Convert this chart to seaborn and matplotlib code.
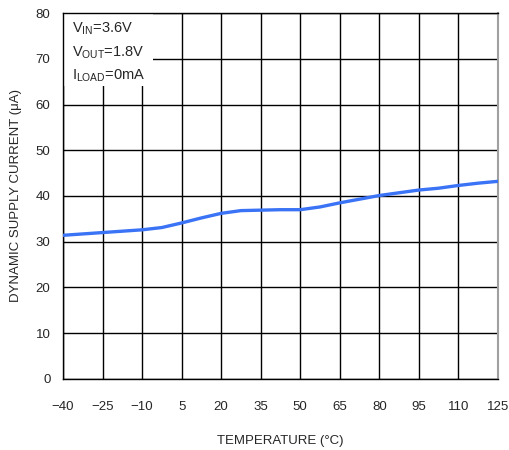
"""Dynamic supply current vs temperature."""

import matplotlib

matplotlib.use('Agg')
import matplotlib.pyplot as plt
import pandas as pd
import seaborn as sns

temperature = [-40, -32.5, -25, -17.5, -10, -2.5, 5, 12.5, 20, 27.5, 35, 42.5,
               50, 57.5, 65, 72.5, 80, 87.5, 95, 102.5, 110, 117.5, 125]
current_ua = [31.4, 31.7, 32.0, 32.3, 32.6, 33.1, 34.1, 35.2, 36.2, 36.8, 36.9, 37.0,
              37.0, 37.6, 38.5, 39.3, 40.1, 40.7, 41.3, 41.7, 42.3, 42.8, 43.2]
x_ticks = [-40, -25, -10, 5, 20, 35, 50, 65, 80, 95, 110, 125]
y_ticks = [0, 10, 20, 30, 40, 50, 60, 70, 80]
conditions = [r'V$_{\mathregular{IN}}$=3.6V', r'V$_{\mathregular{OUT}}$=1.8V',
              r'I$_{\mathregular{LOAD}}$=0mA']

sns.set_style('white')
plt.rcParams['font.family'] = ['Liberation Sans', 'DejaVu Sans']
plt.rcParams['mathtext.fontset'] = 'custom'
plt.rcParams['mathtext.rm'] = 'Liberation Sans'

df = pd.DataFrame({'temp': temperature, 'current': current_ua})

fig = plt.figure(figsize=(5.09, 4.5), dpi=100)
ax = fig.add_axes([0.1238, 0.158, 0.8545, 0.813])
sns.lineplot(df, x='temp', y='current', ax=ax, color='#3a73f5', linewidth=2.4, zorder=3)

ax.set_xlim(-40, 125)
ax.set_ylim(0, 80)
ax.set_xticks(x_ticks)
ax.set_yticks(y_ticks)
ax.grid(True, color='black', linewidth=1.0)
ax.set_axisbelow(True)
for side in ['left', 'top', 'bottom']:
    ax.spines[side].set_color('black')
    ax.spines[side].set_linewidth(1.0)
ax.spines['right'].set_color('#a0a0a0')
ax.spines['right'].set_linewidth(1.5)
ax.tick_params(axis='x', length=0, pad=16, labelsize=9.5)
ax.tick_params(axis='y', length=0, pad=9, labelsize=9.5)
ax.set_xlabel('TEMPERATURE (°C)', fontsize=9.5, labelpad=16)
ax.set_ylabel('DYNAMIC SUPPLY CURRENT (μA)', fontsize=9.5, labelpad=10)

# white box for test conditions
ax.fill_between([-40, -6], 64, 80, color='white', zorder=2.5, linewidth=0)
for i, txt in enumerate(conditions):
    ax.text(-36.5, 76.5 - i * 5.1, txt, fontsize=10.5, va='center', ha='left', zorder=4)

fig.savefig('out.png', dpi=100)
